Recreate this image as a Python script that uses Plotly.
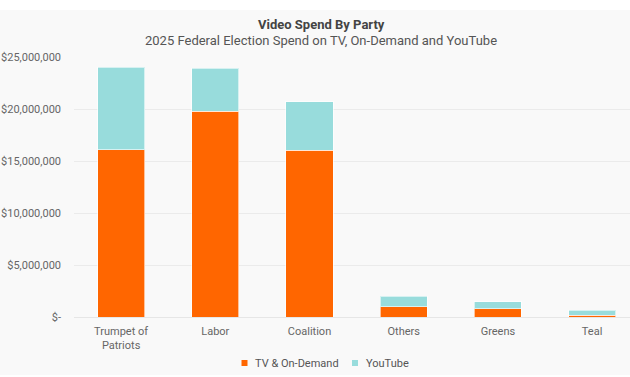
import plotly.graph_objects as go

parties = ["Trumpet of<br>Patriots", "Labor", "Coalition", "Others", "Greens", "Teal"]
tv_on_demand = [16100000, 19800000, 16050000, 1000000, 800000, 150000]
youtube = [7900000, 4100000, 4650000, 1000000, 670000, 520000]
tick_vals = [0, 5000000, 10000000, 15000000, 20000000, 25000000]
tick_text = ["$-", "$5,000,000", "$10,000,000", "$15,000,000", "$20,000,000", "$25,000,000"]
series_names = ["TV & On-Demand", "YouTube"]

ORANGE = "#FF6600"
TEAL = "#98DCDC"
FONT = "Roboto"

W, H = 630, 377
ML, MR, MT, MB = 74, 0, 57, 60
PW = W - ML - MR
PH = H - MT - MB

def px_x(p):
    return (p - ML) / PW

def px_y(p):
    return (H - MB - p) / PH

fig = go.Figure()
fig.add_trace(go.Bar(x=parties, y=tv_on_demand, name=series_names[0],
                     marker=dict(color=ORANGE, line=dict(color="rgba(255,255,255,0.6)", width=1)),
                     showlegend=False))
fig.add_trace(go.Bar(x=parties, y=youtube, name=series_names[1],
                     marker=dict(color=TEAL, line=dict(color="rgba(255,255,255,0.6)", width=1)),
                     showlegend=False))

shapes = [
    dict(type="rect", xref="paper", yref="paper", layer="below",
         x0=px_x(0), x1=px_x(W), y0=px_y(375), y1=px_y(10),
         fillcolor="#F9F9F9", line=dict(width=0)),
]
annotations = [
    dict(text="<b>Video Spend By Party</b>", xref="paper", yref="paper",
         x=px_x(321), y=px_y(24), xanchor="center", yanchor="middle", showarrow=False,
         font=dict(family=FONT, size=13, color="#444444")),
    dict(text="2025 Federal Election Spend on TV, On-Demand and YouTube", xref="paper", yref="paper",
         x=px_x(321), y=px_y(40), xanchor="center", yanchor="middle", showarrow=False,
         font=dict(family=FONT, size=13, color="#555555")),
]
# custom legend
legend_items = [(244.5, 253, ORANGE), (355, 364, TEAL)]
for name, (sx, tx, col) in zip(series_names, legend_items):
    shapes.append(dict(type="rect", xref="paper", yref="paper",
                       x0=px_x(sx - 3), x1=px_x(sx + 3), y0=px_y(366), y1=px_y(360),
                       fillcolor=col, line=dict(width=0)))
    annotations.append(dict(text=name, xref="paper", yref="paper", x=px_x(tx), y=px_y(363),
                            xanchor="left", yanchor="middle", showarrow=False,
                            font=dict(family=FONT, size=11, color="#555555")))

fig.update_layout(
    width=W, height=H,
    margin=dict(l=ML, r=MR, t=MT, b=MB, pad=0, autoexpand=False),
    barmode="stack", bargap=0.5,
    paper_bgcolor="white", plot_bgcolor="rgba(0,0,0,0)",
    font=dict(family=FONT, size=11, color="#666666"),
    showlegend=False,
    shapes=shapes,
    annotations=annotations,
)
fig.update_xaxes(range=[-0.5, -0.5 + PW / 94.2], showgrid=False, showline=False, automargin=False,
                 ticks="", tickfont=dict(size=11, color="#666666"), fixedrange=True,
                 ticklabelstandoff=6)
fig.update_yaxes(range=[0, 25000000], tickvals=tick_vals, ticktext=tick_text, automargin=False,
                 showgrid=True, gridcolor="#EBEBEB", gridwidth=1, zeroline=True,
                 zerolinecolor="#E6E6E6", zerolinewidth=1, ticks="", ticklabelstandoff=12,
                 tickfont=dict(size=11, color="#666666"), showline=False, fixedrange=True)

fig.write_html("out.html", config={"displayModeBar": False},
               post_script="document.body.style.margin='0';document.body.style.overflow='hidden';")
